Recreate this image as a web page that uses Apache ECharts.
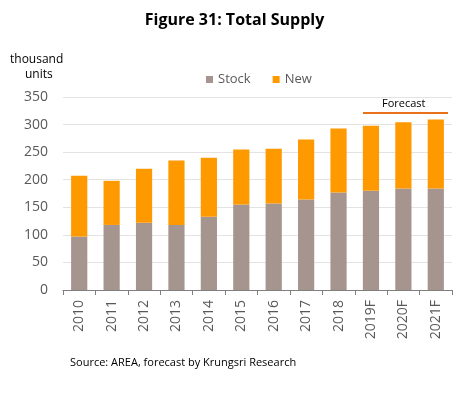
<!DOCTYPE html>
<html>
<head>
<meta charset="utf-8">
<script src="https://cdn.jsdelivr.net/npm/echarts@6/dist/echarts.min.js"></script>
<style>
    html, body { margin: 0; padding: 0; background: #fff; }
    #chart { width: 469px; height: 397px; }
</style>
</head>
<body>
<div id="chart"></div>
<script>
var years = ['2010', '2011', '2012', '2013', '2014', '2015', '2016', '2017', '2018', '2019F', '2020F', '2021F'];
var stock = [97, 118, 122, 118, 133, 155, 157, 164, 177, 180, 184, 184];
var added = [110, 80, 98, 117, 107, 100, 99, 109, 116, 118, 120, 125];
var yTicks = { min: 0, max: 350, interval: 50 };

var font = '"Open Sans", sans-serif';
var myChart = echarts.init(document.getElementById('chart'));
var option = {
    backgroundColor: '#fff',
    animation: false,
    title: {
        text: 'Figure 31: Total Supply',
        left: 'center',
        top: 7,
        textStyle: { fontFamily: font, fontSize: 16, fontWeight: 'bold', color: '#000' }
    },
    legend: {
        top: 68,
        left: 201,
        itemWidth: 7,
        itemHeight: 7,
        itemGap: 22,
        icon: 'rect',
        textStyle: { fontFamily: font, fontSize: 13, color: '#595959' },
        data: ['Stock', 'New']
    },
    grid: {
        left: 63,
        right: 17,
        top: 97,
        bottom: 107,
        containLabel: false
    },
    graphic: [
        // axis title at top left
        {
            type: 'text', left: 10, top: 54,
            style: { text: 'thousand', font: '12px ' + font, fill: '#000' }
        },
        {
            type: 'text', left: 25, top: 69,
            style: { text: 'units', font: '12px ' + font, fill: '#000' }
        },
        // forecast marker
        {
            type: 'line', shape: { x1: 363, y1: 113, x2: 448, y2: 113 },
            style: { stroke: '#E8711A', lineWidth: 2 }
        },
        {
            type: 'text', left: 382, top: 98,
            style: { text: 'Forecast', font: '11px ' + font, fill: '#000' }
        },
        {
            type: 'text', left: 70, top: 357,
            style: { text: 'Source: AREA, forecast by Krungsri Research', font: '11px ' + font, fill: '#000' }
        }
    ],
    xAxis: {
        type: 'category',
        data: years,
        axisLine: { lineStyle: { color: '#7f7f7f', width: 1 } },
        axisTick: { show: true, alignWithLabel: false, length: 5, lineStyle: { color: '#7f7f7f' } },
        axisLabel: { rotate: 90, margin: 10, fontFamily: font, fontSize: 14, color: '#595959', interval: 0 }
    },
    yAxis: {
        type: 'value',
        min: yTicks.min,
        max: yTicks.max,
        interval: yTicks.interval,
        axisLine: { show: false },
        axisTick: { show: false },
        splitLine: { lineStyle: { color: '#e3e3e3', width: 1 } },
        axisLabel: { margin: 15, fontFamily: font, fontSize: 14, color: '#595959' }
    },
    series: [
        {
            name: 'Stock',
            type: 'bar',
            stack: 'total',
            barWidth: '50%',
            itemStyle: { color: '#A6958F' },
            data: stock
        },
        {
            name: 'New',
            type: 'bar',
            stack: 'total',
            barWidth: '50%',
            itemStyle: { color: '#FF9900' },
            data: added
        }
    ]
};
myChart.setOption(option);
</script>
</body>
</html>
